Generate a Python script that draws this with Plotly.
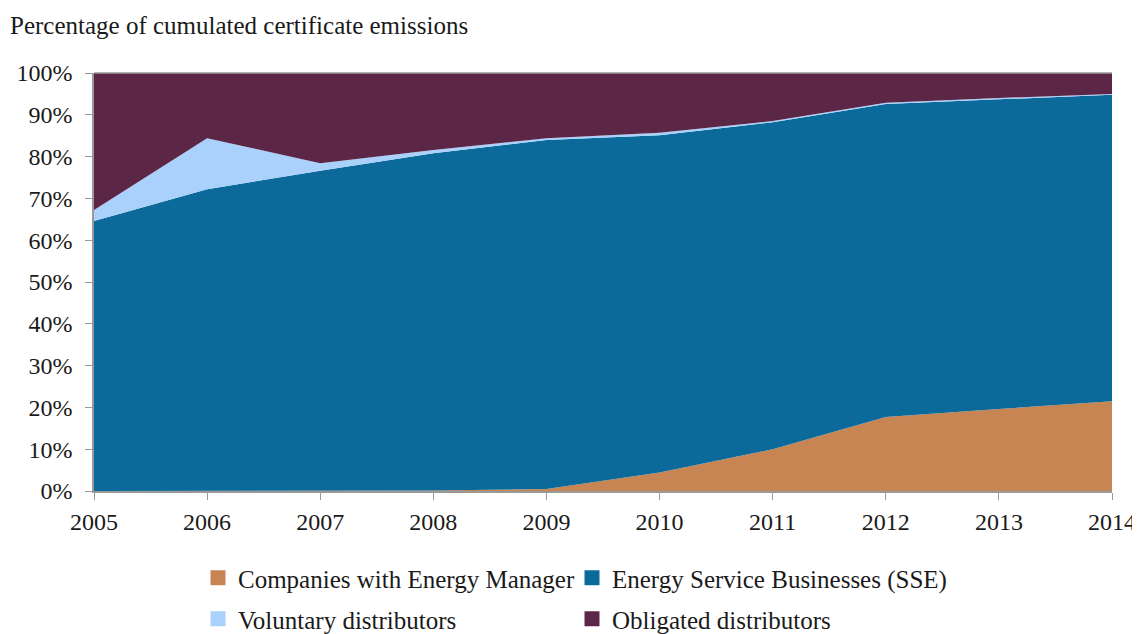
import plotly.graph_objects as go

years = [2005, 2006, 2007, 2008, 2009, 2010, 2011, 2012, 2013, 2014]
companies = [0, 0, 0, 0.1, 0.5, 4.4, 10.0, 17.7, 19.6, 21.5]
sse = [64.6, 72.2, 76.6, 80.7, 83.5, 80.7, 78.2, 74.9, 74.1, 73.3]
voluntary = [2.6, 12.2, 1.8, 0.8, 0.4, 0.6, 0.3, 0.3, 0.3, 0.2]
obligated = [32.8, 15.6, 21.6, 18.4, 15.6, 14.3, 11.5, 7.1, 6.0, 5.0]

names = ["Companies with Energy Manager", "Energy Service Businesses (SSE)",
         "Voluntary distributors", "Obligated distributors"]
colors = ["#C78553", "#0B6A9A", "#A9D1FB", "#5C2746"]
series = [companies, sse, voluntary, obligated]
legend_ids = ["legend", "legend2", "legend3", "legend4"]

FONT = "Liberation Serif"
TXT = "#1a1a1a"
W, H = 1140, 634
fig = go.Figure()
for n, c, s in zip(names, colors, series):
    fig.add_trace(go.Scatter(x=years, y=s, name=n, stackgroup="one", mode="lines",
                             line=dict(width=0, color=c), fillcolor=c, showlegend=False))
for n, c, lg in zip(names, colors, legend_ids):
    fig.add_trace(go.Scatter(x=[None], y=[None], name=n, mode="markers", legend=lg,
                             marker=dict(symbol="square", size=15, color=c)))


def leg(xpx, ypx):
    return dict(orientation="h", xref="container", yref="container", x=xpx / W, xanchor="left",
                y=(H - ypx) / H, yanchor="middle", itemwidth=30,
                font=dict(family=FONT, size=25, color=TXT), bgcolor="rgba(0,0,0,0)")


fig.update_layout(
    width=W, height=H,
    margin=dict(l=86, r=36, t=65, b=151, autoexpand=False),
    paper_bgcolor="white", plot_bgcolor="white",
    font=dict(family=FONT, size=24, color=TXT),
    showlegend=True,
    legend=leg(190, 570), legend2=leg(564, 570),
    legend3=leg(190, 611), legend4=leg(564, 611),
    title=dict(text="Percentage of cumulated certificate emissions", xref="container", yref="container",
               x=2 / W, xanchor="left", y=1 - 17 / H, yanchor="middle",
               font=dict(family=FONT, size=25, color=TXT)),
    shapes=[dict(type="line", xref="paper", yref="paper", x0=0, x1=1, y0=1, y1=1,
                 line=dict(color="#999", width=1.5))],
)
fig.update_xaxes(range=[2005, 2014], tickmode="array", tickvals=years, ticktext=[str(y) for y in years],
                 showgrid=False, showline=True, linecolor="#999", linewidth=1.5, automargin=False,
                 ticks="outside", ticklen=7, tickcolor="#999", zeroline=False, ticklabelstandoff=1)
fig.update_yaxes(range=[0, 100], tickmode="array", tickvals=list(range(0, 101, 10)),
                 ticktext=[f"{v}%" for v in range(0, 101, 10)],
                 showgrid=False, showline=True, linecolor="#999", linewidth=1.5, automargin=False,
                 ticks="outside", ticklen=7, tickcolor="#999", zeroline=False, ticklabelstandoff=8)

fig.write_html("out.html")
